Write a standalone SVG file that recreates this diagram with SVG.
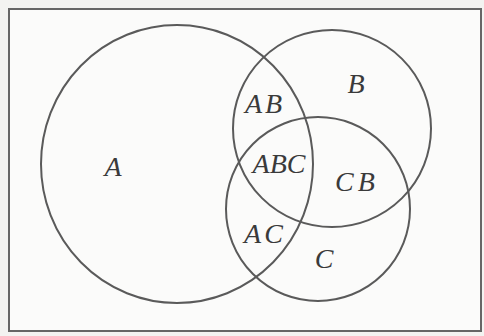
<svg xmlns="http://www.w3.org/2000/svg" width="484" height="336" viewBox="0 0 484 336">
  <style>
    .set { fill: none; stroke: #5a5a5a; stroke-width: 2; }
    .lbl { font-family: "Liberation Serif", "Times New Roman", serif; font-style: italic; font-size: 28px; fill: #3a3a3a; text-anchor: middle; }
  </style>
  <rect x="0" y="0" width="484" height="336" fill="#f3f3f1"/>
  <rect x="9" y="9" width="472" height="322" fill="#fbfbfa" stroke="#666" stroke-width="2"/>
  <g id="set-A">
    <ellipse class="set" cx="177" cy="164" rx="136" ry="139"/>
    <text class="lbl" x="113" y="176">A</text>
  </g>
  <g id="set-B">
    <ellipse class="set" cx="332" cy="128.5" rx="99" ry="98.5"/>
    <text class="lbl" x="356" y="93">B</text>
  </g>
  <g id="set-C">
    <ellipse class="set" cx="318" cy="209" rx="92" ry="92"/>
    <text class="lbl" x="324" y="268">C</text>
  </g>
  <g id="region-AB">
    <text class="lbl" x="265" y="113" letter-spacing="3">AB</text>
  </g>
  <g id="region-ABC">
    <text class="lbl" x="279" y="173">ABC</text>
  </g>
  <g id="region-CB">
    <text class="lbl" x="357" y="191" letter-spacing="4">CB</text>
  </g>
  <g id="region-AC">
    <text class="lbl" x="265" y="243" letter-spacing="3">AC</text>
  </g>
  <g id="connectors"></g>
</svg>
